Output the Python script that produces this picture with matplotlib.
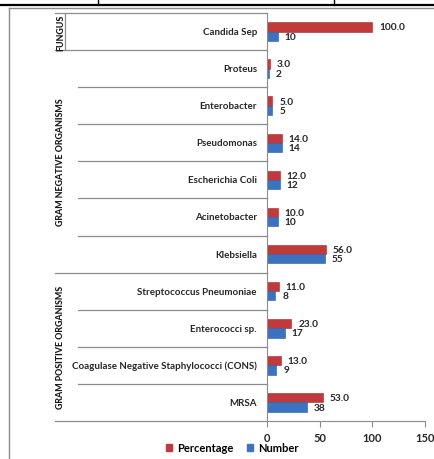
import numpy as np
import matplotlib.pyplot as plt
from matplotlib.lines import Line2D
from matplotlib.patches import Patch

# organisms, top to bottom
organisms = ['Candida Sep', 'Proteus', 'Enterobacter', 'Pseudomonas',
             'Escherichia Coli', 'Acinetobacter', 'Klebsiella',
             'Streptococcus Pneumoniae', 'Enterococci sp.',
             'Coagulase Negative Staphylococci (CONS)', 'MRSA']
percentage = [100.0, 3.0, 5.0, 14.0, 12.0, 10.0, 56.0, 11.0, 23.0, 13.0, 53.0]
number = [10, 2, 5, 14, 12, 10, 55, 8, 17, 9, 38]

# groups: (label, first row, last row)
groups = [('FUNGUS', 0, 0),
          ('GRAM NEGATIVE ORGANISMS', 1, 6),
          ('GRAM POSITIVE ORGANISMS', 7, 10)]

xticks = [0, 50, 100, 150]

red = '#C0393B'
blue = '#3B73C1'
grey = '#8C8C8C'
txt = '#262626'
font = ['Lato', 'DejaVu Sans']

W, H = 435, 460
fig = plt.figure(figsize=(W / 100, H / 100), dpi=100)

# frame and the bit of table above it
fig.add_artist(Line2D([9 / W, 9 / W], [0, 1 - 9 / H], color=grey, lw=1))
fig.add_artist(Line2D([9 / W, 1], [1 - 9 / H, 1 - 9 / H], color=grey, lw=1))
fig.add_artist(Line2D([0, 1], [1 - 5.5 / H, 1 - 5.5 / H], color='black', lw=1.6))
for px in [98, 334]:
    fig.add_artist(Line2D([px / W, px / W], [1 - 5.5 / H, 1], color='black', lw=1))

x0, x1, ytop, ybot = 267, 425, 14, 422
ax = fig.add_axes([x0 / W, (H - ybot) / H, (x1 - x0) / W, (ybot - ytop) / H])

y = np.arange(len(organisms))
bh = 0.25
ax.barh(y - bh / 2, percentage, height=bh, color=red, edgecolor='#9E2B2D', lw=0.4,
        label='Percentage')
ax.barh(y + bh / 2, number, height=bh, color=blue, edgecolor='#2C5C9E', lw=0.4,
        label='Number')

for yi, p, n in zip(y, percentage, number):
    ax.annotate(f'{p:.1f}', (p, yi - bh / 2), xytext=(5, 0), textcoords='offset points',
                ha='left', va='center', fontsize=7.3, fontweight='bold', color=txt, family=font)
    ax.annotate(f'{n}', (n, yi + bh / 2), xytext=(5, 0), textcoords='offset points',
                ha='left', va='center', fontsize=7.3, fontweight='bold', color=txt, family=font)

ax.set_xlim(0, 150)
ax.set_ylim(len(organisms) - 0.5, -0.5)
ax.set_xticks(xticks)
ax.set_xticklabels([str(t) for t in xticks], family=font, fontsize=8, fontweight='bold', color=txt)
ax.tick_params(axis='x', length=4, color=grey, pad=4)
ax.set_yticks([])
for s in ['top', 'right']:
    ax.spines[s].set_visible(False)
for s in ['left', 'bottom']:
    ax.spines[s].set_color(grey)

# category labels and separators to the left of the axis
tr = ax.get_yaxis_transform()
def fx(px):
    return (px - x0) / (x1 - x0)

for yi, name in zip(y, organisms):
    ax.text(fx(257), yi, name, transform=tr, ha='right', va='center',
            fontsize=7, fontweight='bold', color=txt, family=font, clip_on=False)

starts = {g[1] for g in groups}
for k in range(len(organisms)):
    if k in starts:
        continue
    ax.plot([fx(78), 0], [k - 0.5, k - 0.5], transform=tr, color=grey, lw=0.9, clip_on=False)

for label, a, b in groups:
    ax.plot([fx(55), 0], [a - 0.5, a - 0.5], transform=tr, color=grey, lw=0.9, clip_on=False)
    ax.text(fx(61), (a + b) / 2, label, transform=tr, rotation=90, ha='center', va='center',
            fontsize=6.4, fontweight='black', color='#1A1A1A', family=font, clip_on=False)
ax.plot([fx(55), 0], [len(organisms) - 0.5] * 2, transform=tr, color=grey, lw=0.9, clip_on=False)
ax.plot([fx(65), fx(65)], [-0.5, 0.5], transform=tr, color=grey, lw=0.9, clip_on=False)

handles = [Patch(color=red), Patch(color=blue)]
fig.legend(handles, ['Percentage', 'Number'], loc='center', bbox_to_anchor=(232 / W, 1 - 449 / H),
           ncol=2, frameon=False, handlelength=0.6, handleheight=0.6, handletextpad=0.4,
           columnspacing=1.2, prop={'family': font, 'size': 8, 'weight': 'bold'})

fig.savefig('out.png', dpi=100)
